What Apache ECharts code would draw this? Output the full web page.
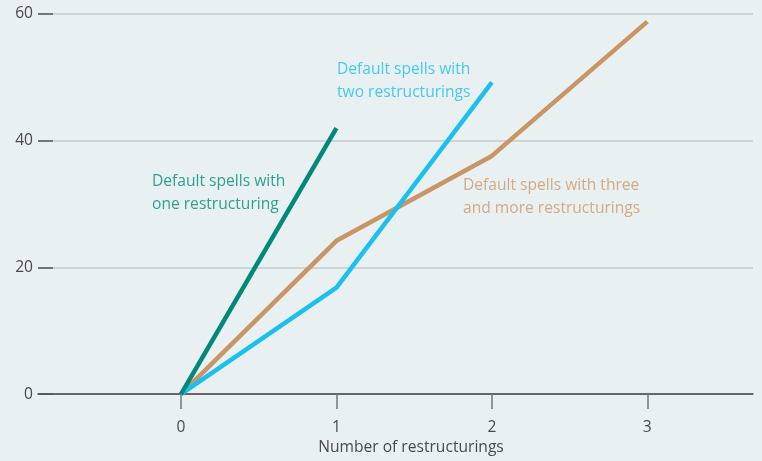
<!DOCTYPE html>
<html><head><meta charset="utf-8">
<script src="https://cdn.jsdelivr.net/npm/echarts@6/dist/echarts.min.js"></script>
<style>html,body{margin:0;padding:0;background:#e8f0f1}#c{width:762px;height:461px}</style>
</head><body><div id="c"></div>
<script>
var xTicks = [0, 1, 2, 3];
var yTicks = [0, 20, 40, 60];
var oneRestructuring = [[0, 0], [1, 42]];
var twoRestructurings = [[0, 0], [1, 16.8], [2, 49.2]];
var threeMore = [[0, 0], [1, 24.2], [2, 37.6], [3, 58.8]];
var labelOne = ['Default spells with', 'one restructuring'];
var labelTwo = ['Default spells with', 'two restructurings'];
var labelThree = ['Default spells with three', 'and more restructurings'];
var xName = 'Number of restructurings';

var font = 'Open Sans';
var fs = 15.6;
var chart = echarts.init(document.getElementById('c'));
chart.setOption({
  backgroundColor: '#e8f0f1',
  animation: false,
  textStyle: {fontFamily: font},
  grid: {left: 38, right: 9, top: 14, bottom: 66},
  xAxis: {
    type: 'value', min: -0.92, max: 3.68,
    name: xName, nameLocation: 'middle', nameGap: 45,
    nameTextStyle: {color: '#4a4a4a', fontSize: fs, fontFamily: font, padding: [0, 0, 0, 31]},
    axisLine: {show: true, onZero: false, lineStyle: {color: '#444', width: 1.5}},
    axisTick: {show: true, customValues: xTicks, length: 15, lineStyle: {color: '#777', width: 1.5}},
    axisLabel: {customValues: xTicks, color: '#4a4a4a', fontSize: fs, margin: 25, fontFamily: font},
    splitLine: {show: false}
  },
  yAxis: {
    type: 'value', min: 0, max: 60, interval: 20,
    axisLine: {show: false, onZero: false},
    axisTick: {show: true, inside: true, length: 15, lineStyle: {color: '#555', width: 1.5}},
    axisLabel: {color: '#4a4a4a', fontSize: fs, margin: 5, fontFamily: font},
    splitLine: {show: true, lineStyle: {color: '#c5cbcc', width: 1.5}}
  },
  series: [
    {type: 'line', data: threeMore, symbol: 'none', lineStyle: {color: '#c99565', width: 4.5}, z: 3},
    {type: 'line', data: twoRestructurings, symbol: 'none', lineStyle: {color: '#1cc0ee', width: 4.5}, z: 4},
    {type: 'line', data: oneRestructuring, symbol: 'none', lineStyle: {color: '#00897a', width: 4.5}, z: 5}
  ],
  graphic: [
    {type: 'text', left: 337, top: 58, style: {text: labelTwo.join('\n'), fill: '#47c9ef', font: fs + 'px "Open Sans"', lineHeight: 23}},
    {type: 'text', left: 152, top: 170, style: {text: labelOne.join('\n'), fill: '#30a092', font: fs + 'px "Open Sans"', lineHeight: 23}},
    {type: 'text', left: 463, top: 174, style: {text: labelThree.join('\n'), fill: '#d5aa82', font: fs + 'px "Open Sans"', lineHeight: 23}}
  ]
});
</script></body></html>
